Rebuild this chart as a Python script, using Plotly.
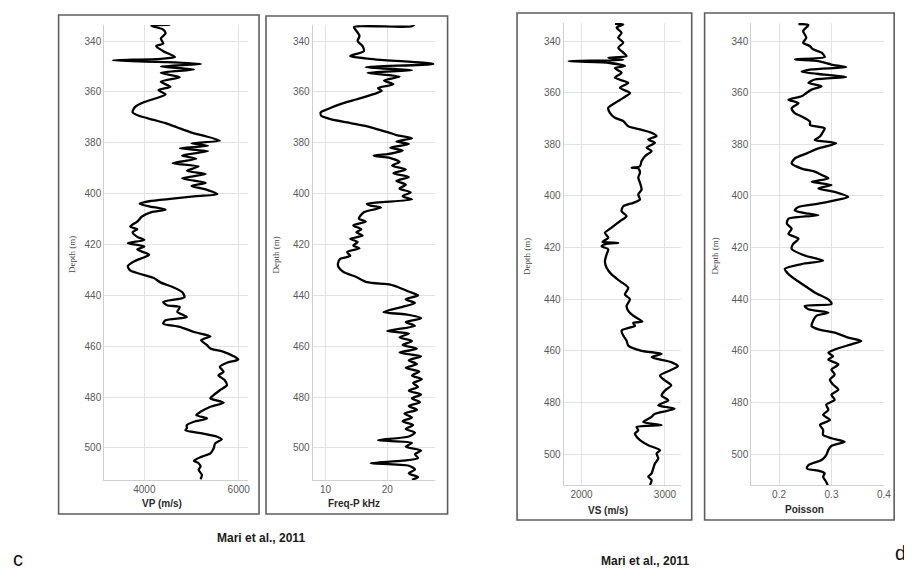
import plotly.graph_objects as go

# ---------------- data ----------------
vp_depth = [333.5, 334.0, 335.5, 337, 339, 341, 342, 344, 346.3, 347, 347.6, 348.2, 349, 350, 351.2,
            352.5, 354.2, 356, 358, 359.3, 361, 362.5, 364, 366, 368, 369.5, 371, 372.3, 374, 376,
            377.2, 379.2, 380.2, 381.2, 382.2, 383.3, 385, 386.3, 388, 389.3, 391, 392.3, 394, 395.8,
            397, 398.3, 400.2, 401, 402, 403, 404, 405, 406.3, 407.3, 409, 411, 413, 414, 415.2, 417,
            418.2, 419.5, 420.8, 422, 424, 425, 426.5, 428.5, 430.2, 431.5, 433.2, 435, 436.7, 438.7,
            440.7, 442.6, 443.9, 444.6, 446.5, 448.5, 449.8, 451.1, 452.4, 454.4, 456.1, 457.6, 459.6,
            460.9, 462.2, 463.9, 465.2, 466.5, 468.1, 470.1, 471.4, 473.3, 475.3, 477.3, 479.2, 480.5,
            482.2, 483.8, 485.8, 487.1, 488.4, 489.7, 491.0, 492.3, 493.0, 494.2, 495.6, 496.6, 498.2,
            500.1, 502.1, 503.4, 505.0, 506.0, 507.3, 508.6, 510.6, 512.3]
vp_vals = [4550, 4150, 4400, 4450, 4350, 4400, 4250, 4400, 4650, 4350, 3330, 4300, 5200, 4350, 5050,
           4350, 4750, 4350, 4550, 4300, 4450, 4250, 4000, 3800, 3750, 3900, 4200, 4450, 4700, 5000,
           5250, 5600, 5000, 5350, 4750, 5350, 4800, 5100, 4600, 5150, 4900, 5300, 4800, 5300,
           5000, 5300, 5550, 5100, 4600, 4100, 3900, 4100, 4450, 4150, 3950, 3850, 3700, 3850, 3750, 3850,
           4000, 3650, 4000, 3850, 4100, 4000, 3800, 3650, 3700, 3900, 4200, 4350, 4600, 4800,
           4850, 4400, 4480, 4750, 4700, 4900, 4450, 4400, 4750, 5050, 5400, 5200, 5330,
           5400, 5680, 5890, 5990, 5750, 5600, 5680, 5570, 5700, 5750, 5600, 5470, 5400,
           5680, 5400, 5190, 5100, 5330, 5050, 4900, 4900, 4870, 5190, 5540, 5640, 5500,
           5470, 5400, 5220, 5050, 5150, 5190, 5150, 5220, 5190]

fp_depth = [333.2, 334.2, 334.5, 336, 338, 340, 342, 344, 345.9, 347.2, 349, 350.3, 351.5, 352.5, 354,
            355.5, 357, 358.5, 359.6, 360.9, 362.9, 364.8, 366.8, 368.1, 369.4, 370.7, 372, 373.3,
            374.6, 375.9, 377, 378.2, 379.5, 380.5, 382, 383, 384.5, 385.1, 386, 387.5, 389, 390.5,
            392, 393.5, 395, 396.5, 398, 399.5, 401, 402.3, 403.4, 404, 404.7, 405.5, 407.3, 409.9,
            411, 412.5, 414, 415.2, 416.5, 417.8, 419, 420.4, 421.5, 423, 424.5, 425.6, 427.6, 428.9,
            430.8, 432.8, 434.8, 435.8, 437, 438.5, 440, 441.5, 443, 444.5, 446.6, 447.5, 449, 450.5,
            452, 454, 455, 456.5, 458, 459.5, 461, 462.5, 464, 465.5, 467, 468.5, 470, 471.5, 473,
            474.5, 476, 477.5, 479, 480.5, 482, 483.5, 485, 486.5, 488, 489.5, 491, 492.5, 494,
            495.5, 497, 498, 499.5, 501, 502.5, 504, 505, 506, 507, 508.5, 510, 511.5, 512.5]
fp_vals = [24.5, 24.0, 14.6, 15.0, 15.5, 15.2, 16.0, 16.2, 14.0, 18.0, 27.5, 16.5, 24.0, 16.8, 22.0,
           19.5, 21.0, 18.5, 19.1, 17.8, 15.1, 12.4, 10.3, 9.2, 9.3, 10.8, 13.5, 16.2,
           18.3, 20.2, 21.5, 24.0, 21.5, 23.5, 20.5, 22.5, 20.0, 17.8, 20.5, 22.0, 20.8, 23.0,
           21.0, 23.5, 21.5, 23.0, 22.0, 23.8, 22.5, 24.0, 18.6, 16.7, 17.3, 19.0, 16.2, 15.4,
           16.5, 14.5, 15.8, 15.0, 16.0, 14.0, 15.2, 14.5, 15.5, 13.5, 14.0, 12.4, 12.0, 12.1,
           12.9, 15.0, 16.7, 20.5, 22.0, 23.5, 25.0, 23.0, 24.5, 22.5, 19.4, 23.0, 25.5, 23.0,
           24.5, 20.0, 23.5, 22.0, 24.0, 22.5, 24.8, 22.0, 25.5, 23.5, 24.8, 23.0, 25.2, 24.0, 25.6,
           24.2, 25.0, 23.5, 25.5, 24.0, 25.3, 23.5, 24.8, 22.8, 24.0, 22.5, 24.2, 23.0, 24.5,
           23.5, 18.5, 24.0, 23.0, 25.5, 24.5, 25.0, 22.5, 17.3, 23.5, 24.5, 23.5, 25.0, 24.0]

vs_depth = [333.3, 333.6, 334.8, 336.8, 338.7, 340.6, 342.6, 344.5, 345.8, 346.5, 347.3, 347.8, 348.4,
            349.7, 350.5, 352.3, 354.2, 356.2, 358.1, 360.1, 362, 364, 365.9, 367.8, 369.7, 371, 373,
            374.2, 375.5, 376.8, 378.1, 379.4, 381.3, 382.6, 384.6, 386.5, 388.5, 389.1, 389.3, 391,
            392.9, 394.9, 397.5, 399.4, 401.4, 402.7, 404, 405.9, 407.8, 409.8, 412.3, 414.3, 416.2,
            417.8, 418.2, 418.6, 419.5, 420.7, 422.7, 425.3, 427.8, 430.4, 433, 435.6, 438.2, 440,
            442.6, 444.5, 446.4, 448.7, 449.2, 450.3, 452.2, 454.1, 456.1, 458, 460, 461.2, 462.5,
            464.4, 466, 467.6, 469.6, 471.5, 473.4, 475.4, 477.3, 479.2, 481.1, 482.5, 484.4, 485.6,
            487.6, 488.8, 489.5, 490.8, 492.1, 493.3, 494.6, 496.6, 498.5, 499.8, 501.7, 503.7,
            505.6, 507.5, 508.8, 510.1, 512]
vs_vals = [2400, 2500, 2420, 2480, 2440, 2500, 2440, 2500, 2540, 2320, 2500, 1845, 2320,
           2520, 2400, 2480, 2400, 2560, 2460, 2580, 2500, 2400, 2320, 2340, 2400, 2500, 2560,
           2700, 2840, 2900, 2800, 2880, 2780, 2840, 2760, 2720, 2700, 2600, 2680, 2700,
           2680, 2700, 2720, 2680, 2700, 2620, 2500, 2480, 2540, 2460, 2360, 2280, 2320,
           2250, 2440, 2300, 2240, 2320, 2300, 2280, 2300, 2360, 2460, 2560, 2520, 2580,
           2540, 2560, 2620, 2730, 2620, 2640, 2480, 2500, 2540, 2560, 2720, 2960, 2840,
           3075, 3155, 3060, 2940, 3000, 3075, 3000, 2960, 3040, 2920, 3115, 2880, 2840,
           2740, 2960, 2660, 2680, 2640, 2660, 2700, 2800, 2940, 2900, 2920, 2880,
           2860, 2840, 2800, 2840, 2820]

po_depth = [333.4, 333.8, 336.1, 338.7, 340.6, 342, 343.2, 344.5, 346.2, 347.1, 347.8, 349.1, 350.1,
            351, 351.9, 353, 353.9, 354.9, 356.2, 357.5, 358.8, 360.1, 361.4, 362.7, 364, 366, 367.9,
            369.2, 371.2, 372.5, 373.8, 375.1, 377, 378.3, 379.6, 381.6, 383.5, 385.5, 387.4, 389.4,
            390.6, 391.9, 393.2, 394.5, 395.8, 397.1, 398.4, 400.4, 401.7, 403, 404.3, 405.6, 406.9,
            407.5, 408.8, 410.8, 412.7, 414.7, 416.6, 418.6, 420.5, 423.1, 425.1, 426.4, 428.3, 430.3,
            432.2, 434.8, 437.4, 440.3, 441.9, 442.6, 443.9, 445.2, 446.5, 448.4, 450.4, 451.7, 453,
            454.9, 456.2, 457.5, 459.5, 460.8, 462.1, 463.4, 465.3, 467.3, 469.2, 471.2, 473.1, 475.1,
            477, 479, 480.9, 482.9, 484.8, 486.8, 488.7, 490.6, 492.6, 493.9, 495.2, 496.8, 498.4,
            500.4, 502.3, 504.3, 505.6, 506.6, 507.5, 508.8, 510.8, 512.7]
po_vals = [0.237, 0.256, 0.246, 0.252, 0.246, 0.259, 0.265, 0.281, 0.287, 0.230, 0.275, 0.300, 0.328,
           0.262, 0.243, 0.287, 0.328, 0.268, 0.256, 0.281, 0.262, 0.252, 0.243, 0.218, 0.237, 0.224, 0.230,
           0.243, 0.259, 0.259, 0.287, 0.284, 0.278, 0.268, 0.309, 0.275, 0.253, 0.230, 0.224, 0.243,
           0.268, 0.281, 0.294, 0.262, 0.300, 0.275, 0.306, 0.332, 0.306, 0.275, 0.237, 0.230, 0.256,
           0.275, 0.218, 0.215, 0.224, 0.218, 0.237, 0.227, 0.224, 0.249, 0.284, 0.243, 0.211, 0.218,
           0.230, 0.249, 0.268, 0.295, 0.300, 0.249, 0.256, 0.294, 0.271, 0.265, 0.262, 0.275, 0.306,
           0.332, 0.357, 0.338, 0.306, 0.294, 0.303, 0.294, 0.313, 0.300, 0.306, 0.297, 0.303, 0.313,
           0.300, 0.306, 0.290, 0.294, 0.284, 0.297, 0.278, 0.284, 0.284, 0.300, 0.325, 0.300, 0.294,
           0.290, 0.281, 0.256, 0.253, 0.278, 0.287, 0.284, 0.290, 0.294]

x_titles = ["VP (m/s)", "Freq-P kHz", "VS (m/s)", "Poisson"]
depth_title = "Depth (m)"
caption = "Mari et al., 2011"
panel_letters = ["c", "d"]

# ---------------- layout helpers ----------------
W, H = 912, 570


def px(x):
    return x / W


def py(y):
    return 1 - y / H


panels = [
    dict(x=vp_vals, y=vp_depth, dom=(97, 242, 17, 472), xr=[3150, 6200], yr=[512.6, 333.7], dt=2000,
         frame=(51, 7, 253, 506), dlab=64, xt=(155, 495)),
    dict(x=fp_vals, y=fp_depth, dom=(307, 430, 17, 472), xr=[7.9, 27.7], yr=[512.6, 333.7], dt=10,
         frame=(260, 8, 443, 506), dlab=270, xt=(349, 495)),
    dict(x=vs_vals, y=vs_depth, dom=(560, 678, 15, 477), xr=[1786, 3190], yr=[512, 333], dt=1000,
         frame=(513, 5, 689, 512), dlab=523, xt=(605, 502)),
    dict(x=po_vals, y=po_depth, dom=(749, 883, 15, 477), xr=[0.147, 0.4005], yr=[512, 333], dt=0.1,
         frame=(702, 5, 893, 512), dlab=712, xt=(803, 501)),
]

fig = go.Figure()
shapes = []
annotations = []
tickfont = dict(family="Liberation Sans, Arial", size=10, color="#5a5a5a")

for i, p in enumerate(panels, start=1):
    sfx = "" if i == 1 else str(i)
    fig.add_trace(go.Scatter(
        x=p["x"], y=p["y"], mode="lines",
        line=dict(color="black", width=2.3, shape="spline", smoothing=0.7),
        xaxis="x" + sfx, yaxis="y" + sfx, showlegend=False, hoverinfo="skip"))
    x0, x1, y0, y1 = p["dom"]
    fig.update_layout(**{
        "xaxis" + sfx: dict(domain=[px(x0), px(x1)], range=p["xr"], anchor="y" + sfx,
                            dtick=p["dt"], tick0=0, showgrid=True, gridcolor="#e2e2e2", gridwidth=1,
                            showline=True, linecolor="#cfcfcf", linewidth=1, zeroline=False,
                            ticks="", tickfont=tickfont, fixedrange=True),
        "yaxis" + sfx: dict(domain=[py(y1), py(y0)], range=p["yr"], anchor="x" + sfx,
                            dtick=20, tick0=0, showgrid=True, gridcolor="#e2e2e2", gridwidth=1,
                            showline=True, linecolor="#cfcfcf", linewidth=1, zeroline=False,
                            ticks="", tickfont=tickfont, fixedrange=True),
    })
    fx0, fy0, fx1, fy1 = p["frame"]
    shapes.append(dict(type="rect", xref="paper", yref="paper",
                       x0=px(fx0), x1=px(fx1), y0=py(fy1), y1=py(fy0),
                       line=dict(color="#5e5e5e", width=1.6), fillcolor="rgba(0,0,0,0)", layer="below"))
    annotations.append(dict(text=depth_title, xref="paper", yref="paper",
                            x=px(p["dlab"]), y=py((y0 + y1) / 2 + 2), textangle=-90, showarrow=False,
                            font=dict(family="Liberation Serif, Times New Roman", size=9, color="#444"),
                            xanchor="center", yanchor="middle"))
    annotations.append(dict(text="<b>" + x_titles[i - 1] + "</b>", xref="paper", yref="paper",
                            x=px(p["xt"][0]), y=py(p["xt"][1]), showarrow=False,
                            font=dict(family="Liberation Sans, Arial", size=10, color="#2a2a2a"),
                            xanchor="center", yanchor="middle"))

# captions and panel letters
for cx, cy in [(255, 530), (642, 553)]:
    annotations.append(dict(text="<b>" + caption + "</b>", xref="paper", yref="paper",
                            x=px(cx), y=py(cy), showarrow=False,
                            font=dict(family="Liberation Sans, Arial", size=12, color="#1a1a1a"),
                            xanchor="center", yanchor="middle"))
for (lx, ly), letter in zip([(10, 551), (899, 545)], panel_letters):
    annotations.append(dict(text=letter, xref="paper", yref="paper",
                            x=px(lx), y=py(ly), showarrow=False,
                            font=dict(family="Liberation Sans, Arial", size=20, color="#111"),
                            xanchor="center", yanchor="middle"))

fig.update_layout(width=W, height=H, margin=dict(l=0, r=0, t=0, b=0),
                  paper_bgcolor="white", plot_bgcolor="white",
                  shapes=shapes, annotations=annotations, showlegend=False)

fig.write_html("out.html", config={"displayModeBar": False})
